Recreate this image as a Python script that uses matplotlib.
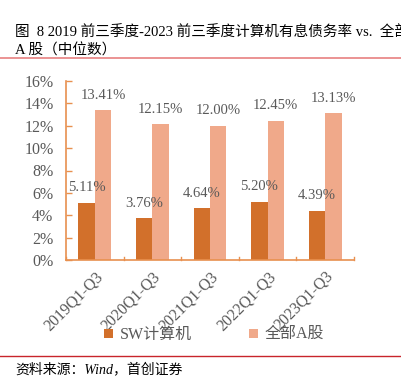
import matplotlib
matplotlib.use("Agg")
import matplotlib.pyplot as plt
import numpy as np

categories = ["2019Q1-Q3", "2020Q1-Q3", "2021Q1-Q3", "2022Q1-Q3", "2023Q1-Q3"]
sw_computer = [5.11, 3.76, 4.64, 5.20, 4.39]
all_a = [13.41, 12.15, 12.00, 12.45, 13.13]
series_names = ["SW计算机", "全部A股"]
yticks = [0, 2, 4, 6, 8, 10, 12, 14, 16]

FAM = ["Liberation Serif", "Noto Sans CJK SC"]
plt.rcParams["font.family"] = FAM
plt.rcParams["axes.unicode_minus"] = False

W, H = 402, 379
fig = plt.figure(figsize=(W / 100, H / 100), dpi=100)

c_dark = "#D2702B"
c_light = "#F0A98A"
c_axis = "#E8904F"
c_text = "#595959"

ax = fig.add_axes([66 / W, 1 - 260 / H, (354 - 66) / W, (260 - 81) / H])
x = np.arange(len(categories))
bw = 0.285
b1 = ax.bar(x - bw / 2, sw_computer, bw, color=c_dark, label=series_names[0])
b2 = ax.bar(x + bw / 2, all_a, bw, color=c_light, label=series_names[1])

for rect, v in zip(b1, sw_computer):
    ax.text(rect.get_x() + rect.get_width() / 2, v + 0.75, f"{v:.2f}%",
            ha="center", va="bottom", fontsize=10.5, color=c_text)
for rect, v in zip(b2, all_a):
    ax.text(rect.get_x() + rect.get_width() / 2, v + 0.75, f"{v:.2f}%",
            ha="center", va="bottom", fontsize=10.5, color=c_text)

ax.set_xlim(-0.5, len(categories) - 0.5)
ax.set_ylim(0, 16)
ax.set_yticks(yticks)
ax.set_yticklabels([f"{t}%" for t in yticks], fontsize=11.5, color=c_text)
ax.set_xticks(x)
ax.set_xticklabels(categories, rotation=45, ha="right", rotation_mode="anchor",
                   fontsize=11.5, color=c_text)
ax.tick_params(axis="x", length=0, pad=6)
ax.tick_params(axis="y", direction="in", length=4, color=c_axis, width=1, pad=9)
for xb in np.arange(-0.5, len(categories), 1.0):
    ax.plot([xb, xb], [0, 0.3], color=c_axis, lw=1, clip_on=False)

for s in ["top", "right"]:
    ax.spines[s].set_visible(False)
for s in ["left", "bottom"]:
    ax.spines[s].set_color(c_axis)
    ax.spines[s].set_linewidth(1.2)

leg = fig.legend(handles=[b1, b2], labels=series_names, loc="center",
                 bbox_to_anchor=(214 / W, 1 - 335 / H), ncol=2, frameon=False,
                 fontsize=11.5, handlelength=0.55, handleheight=0.55,
                 handletextpad=0.4, columnspacing=3.6)
for t in leg.get_texts():
    t.set_color(c_text)

fig.text(15 / W, 1 - 33 / H, "图  8 2019 前三季度-2023 前三季度计算机有息债务率 vs.  全部",
         fontsize=10.5, ha="left", va="center", color="black")
fig.text(15 / W, 1 - 51 / H, "A 股（中位数）", fontsize=10.5, ha="left", va="center", color="black")

fig.add_artist(plt.Line2D([0, 1], [1 - 58 / H, 1 - 58 / H], color="#E88080", lw=1.2))
fig.add_artist(plt.Line2D([0, 1], [1 - 356 / H, 1 - 356 / H], color="#C8242B", lw=1.0))
fig.text(15 / W, 1 - 369 / H, "资料来源：Wind，首创证券", fontsize=10, style="italic",
         ha="left", va="center", color="black")

fig.savefig("out.png", dpi=100)
